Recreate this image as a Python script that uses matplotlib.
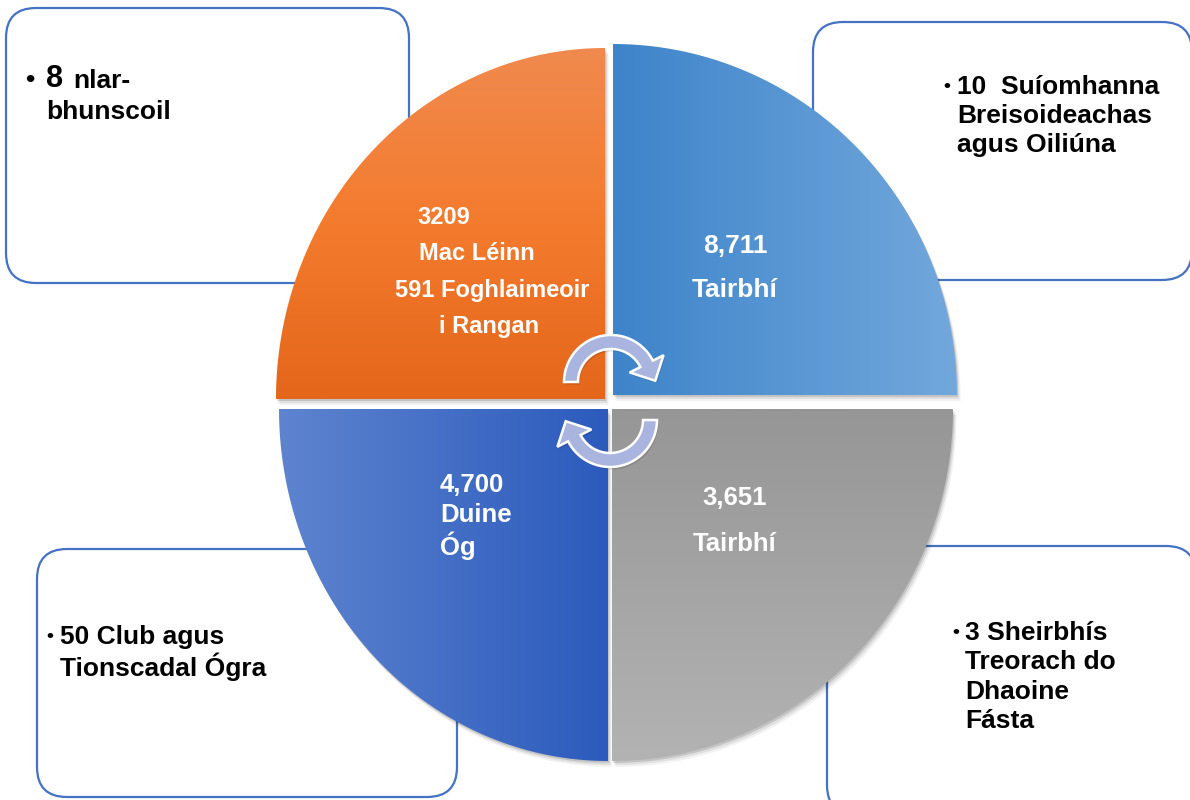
import numpy as np
import matplotlib
matplotlib.use("Agg")
import matplotlib.pyplot as plt
from matplotlib.patches import Polygon, FancyBboxPatch
from matplotlib.colors import LinearSegmentedColormap

plt.rcParams['font.family'] = ['Liberation Sans', 'DejaVu Sans']

# quadrant contents (TL, TR, BL, BR)
quad_lines = [
    ["3209", "Mac Léinn", "591 Foghlaimeoir", "i Rangan"],
    ["8,711", "Tairbhí"],
    ["4,700", "Duine", "Óg"],
    ["3,651", "Tairbhí"],
]
quad_colors = [
    (["#F08A4E", "#F47B2E", "#E4661B"], "v"),
    (["#3E84CA", "#72A8DC"], "h"),
    (["#5E84CF", "#2C5BBD"], "h"),
    (["#969696", "#B3B3B3"], "v"),
]

# outer boxes (TL, TR, BL, BR)
box_lines = [
    ["8 nlar-", "bhunscoil"],
    ["10  Suíomhanna", "Breisoideachas", "agus Oiliúna"],
    ["50 Club agus", "Tionscadal Ógra"],
    ["3 Sheirbhís", "Treorach do", "Dhaoine", "Fásta"],
]

fig = plt.figure(figsize=(11.9, 8), dpi=100)
ax = fig.add_axes([0, 0, 1, 1])

# rounded boxes behind the circle
box_rects = [(6, 8, 409, 283), (813, 22, 1192, 280), (37, 549, 457, 797), (827, 546, 1196, 815)]
for x0, y0, x1, y1 in box_rects:
    ax.add_patch(FancyBboxPatch((x0, y0), x1 - x0, y1 - y0,
                                boxstyle="round,pad=0,rounding_size=30",
                                fc="white", ec="#4472C4", lw=1.6, zorder=1))

# quadrant geometry: corner point, radii, angle range
quad_geom = [
    ((605, 399), 329, 351, 90, 180),
    ((613, 395), 344, 351, 0, 90),
    ((608, 409), 329, 352, 180, 270),
    ((612, 409), 341, 352, 270, 360),
]

for i, (((cx, cy), rx, ry, a0, a1), (cols, d)) in enumerate(zip(quad_geom, quad_colors)):
    t = np.radians(np.linspace(a0, a1, 120))
    pts = np.column_stack([cx + rx * np.cos(t), cy - ry * np.sin(t)])
    pts = np.vstack([[cx, cy], pts])
    # soft shadow
    for off, al in [(6, 0.05), (4, 0.08), (2, 0.12)]:
        ax.add_patch(Polygon(pts + [off * 0.6, off], closed=True, fc="#000000",
                             ec="none", alpha=al, zorder=2))
    poly = Polygon(pts, closed=True, fc="none", ec="none", zorder=3)
    ax.add_patch(poly)
    cmap = LinearSegmentedColormap.from_list("q%d" % i, cols)
    g = np.linspace(0, 1, 256)
    img = g[:, None] if d == "v" else g[None, :]
    xs, ys = pts[:, 0], pts[:, 1]
    im = ax.imshow(img, cmap=cmap, extent=(xs.min(), xs.max(), ys.max(), ys.min()),
                   aspect="auto", zorder=3, interpolation="bilinear")
    im.set_clip_path(poly)


def arrow_poly(cx, cy, t0, t1, R=47, r=33, head=12, tip=19):
    t = np.radians(np.linspace(t0, t1, 60))
    outer = np.column_stack([cx + R * np.cos(t), cy - R * np.sin(t)])
    inner = np.column_stack([cx + r * np.cos(t[::-1]), cy - r * np.sin(t[::-1])])
    te = np.radians(t1)
    m = (R + r) / 2
    radial = np.array([np.cos(te), -np.sin(te)])
    b = np.array([cx, cy]) + m * radial
    direction = np.array([np.sin(te), np.cos(te)])
    if t1 > t0:
        direction = -direction
    h1 = b + (R - m + head * 0.5 + 6) * radial
    h2 = b - (m - r + head * 0.5 + 6) * radial
    tp = b + tip * direction
    return np.vstack([outer, h1, tp, h2, inner])


for cx, cy, t0, t1 in [(611, 382, 180, 27), (610, 420, 0, -153)]:
    pts = arrow_poly(cx, cy, t0, t1)
    ax.add_patch(Polygon(pts + [1.5, 2.5], closed=True, fc="#000000", ec="none", alpha=0.12, zorder=4))
    ax.add_patch(Polygon(pts, closed=True, fc="#A9B5DF", ec="white", lw=1.8, zorder=5))

# quadrant texts
tw = dict(color="white", fontweight="bold", va="center", zorder=6)
orange_pos = [(444, 217), (477, 253), (492, 290), (489, 326)]
for s, (x, y) in zip(quad_lines[0], orange_pos):
    ax.text(x, y, s, ha="center", fontsize=17, **tw)
for s, y in zip(quad_lines[1], [246, 290]):
    ax.text(735, y, s, ha="center", fontsize=19, **tw)
for s, y in zip(quad_lines[2], [485, 515, 546]):
    ax.text(440, y, s, ha="left", fontsize=18.5, **tw)
for s, y in zip(quad_lines[3], [498, 544]):
    ax.text(735, y, s, ha="center", fontsize=18.5, **tw)

# box texts
kw = dict(color="black", fontweight="bold", va="center", ha="left", zorder=6)
ax.text(25, 80, "•", fontsize=19, **kw)
ax.text(46, 79, box_lines[0][0][0], fontsize=22, **kw)
ax.text(73, 81, box_lines[0][0][2:], fontsize=19, **kw)
ax.text(46, 112, box_lines[0][1], fontsize=19, **kw)

bullets = [(943, 957, [87, 116, 145]), (46, 60, [637, 667]), (952, 965, [633, 662, 692, 721])]
for lines, (bx, tx, ys) in zip(box_lines[1:], bullets):
    ax.text(bx, ys[0], "•", fontsize=14, **kw)
    for s, y in zip(lines, ys):
        ax.text(tx, y, s, fontsize=19, **kw)

ax.set_xlim(0, 1190)
ax.set_ylim(800, 0)
ax.axis("off")
fig.savefig("out.png", dpi=100, facecolor="white")
